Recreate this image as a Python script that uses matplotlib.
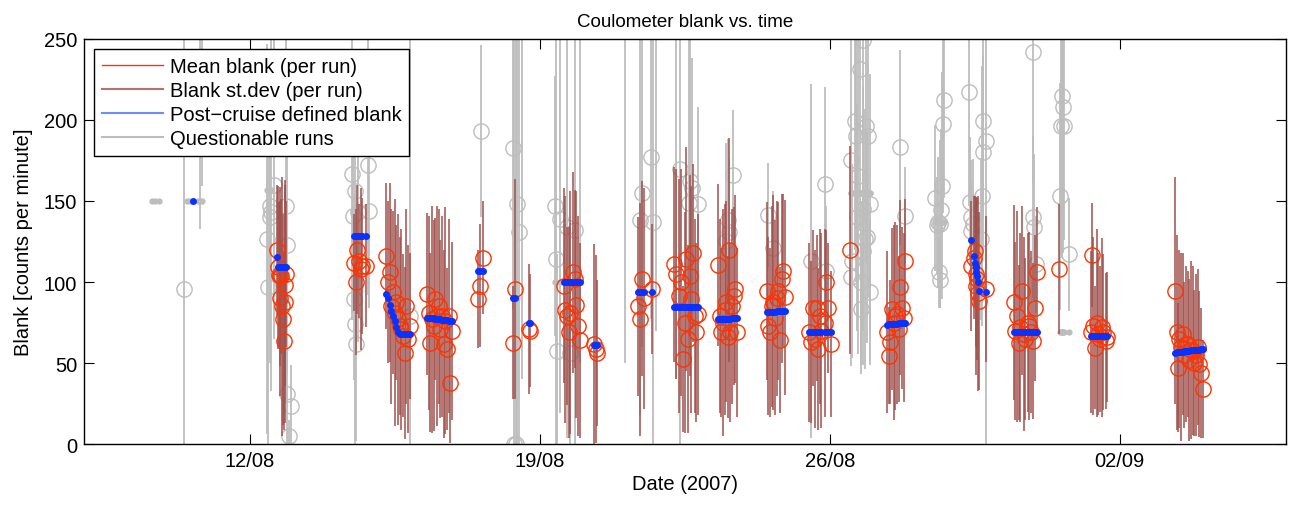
import numpy as np
import matplotlib
matplotlib.use("Agg")
import matplotlib.pyplot as plt
import matplotlib.dates as mdates
from matplotlib.lines import Line2D
from datetime import datetime

plt.rcParams['font.family'] = ['Liberation Sans', 'DejaVu Sans']

# runs accepted for the final blank: day of August 2007 (32 = 1 Sep), mean, bar half-length, post-cruise blank
ok_day = [10.63,
    12.66, 12.68, 12.70, 12.72, 12.74, 12.76, 12.78, 12.80, 12.82, 12.84, 12.86, 12.88,
    14.52, 14.56, 14.60, 14.64, 14.68, 14.72, 14.80,
    15.30, 15.34, 15.38, 15.42, 15.46, 15.50, 15.54, 15.58, 15.62, 15.66, 15.70, 15.74, 15.78, 15.82, 15.86,
    16.28, 16.32, 16.36, 16.40, 16.44, 16.48, 16.52, 16.56, 16.60, 16.64, 16.68, 16.72, 16.76, 16.80, 16.84, 16.88,
    17.50, 17.55, 17.62,
    18.36, 18.40, 18.74, 18.76,
    19.58, 19.62, 19.66, 19.70, 19.74, 19.80, 19.84, 19.88, 19.92, 19.96,
    20.32, 20.35, 20.38,
    21.38, 21.42, 21.47, 21.52, 21.70,
    22.24, 22.30, 22.36, 22.42, 22.46, 22.50, 22.54, 22.58, 22.62, 22.66, 22.70, 22.74, 22.78, 22.82,
    23.30, 23.34, 23.38, 23.42, 23.46, 23.50, 23.54, 23.57, 23.60, 23.64, 23.68, 23.72, 23.76,
    24.48, 24.52, 24.56, 24.60, 24.64, 24.68, 24.72, 24.76, 24.80, 24.84, 24.88, 24.92,
    25.50, 25.55, 25.60, 25.64, 25.68, 25.72, 25.76, 25.80, 25.88, 25.92, 25.96, 26.02,
    26.50,
    27.38, 27.42, 27.46, 27.50, 27.54, 27.58, 27.62, 27.66, 27.70, 27.74, 27.78, 27.82,
    29.42, 29.47, 29.50, 29.52, 29.54, 29.55, 29.57, 29.60, 29.78,
    30.44, 30.48, 30.52, 30.56, 30.60, 30.64, 30.68, 30.72, 30.78, 30.82, 30.86, 30.90, 30.96, 30.99,
    31.53,
    32.30, 32.34, 32.36, 32.40, 32.44, 32.48, 32.52, 32.56, 32.60, 32.66, 32.70,
    34.34, 34.37, 34.40, 34.44, 34.48, 34.52, 34.56, 34.60, 34.64, 34.68, 34.72, 34.76, 34.80, 34.84, 34.88, 34.92, 34.96, 35.00]
ok_mean = [300,
    119.6, 109, 104.6, 103.5, 90, 103.5, 85, 77, 63.8, 98, 88, 105,
    112, 100, 120, 113, 108, 110, 110,
    116, 100, 106, 85, 93.6, 81, 87.4, 77, 73, 71, 67, 56.5, 85, 65, 73,
    92.6, 81, 62.7, 77, 73, 89.5, 79, 85, 71, 79, 61.7, 76, 58.6, 79, 38, 70,
    89.5, 97.7, 115,
    62.7, 95.6, 71, 70,
    97.7, 83, 79, 69, 81, 106, 102, 86, 73, 64,
    61.7, 58.6, 56.5,
    85, 77, 102, 90, 95.6,
    111, 105, 91.5, 100, 52.4, 75, 114, 65, 104, 89.5, 118, 79, 69, 80,
    110.5, 79, 69, 75, 83, 88, 66, 120, 69, 85, 91.5, 95.6, 69,
    94.6, 73, 69, 85, 87.4, 78, 90, 94.6, 64, 102, 107, 90.5,
    69, 63, 84, 65, 84, 58.6, 79, 70, 75, 100, 84, 61.7,
    119.7,
    69, 54.5, 63, 83.3, 75, 79, 80, 71, 96.7, 84, 78, 113,
    110, 115, 119.3, 105, 97.7, 102, 93, 88.5, 95.6,
    87.4, 70, 79, 62.7, 72, 94.6, 68, 64.8, 75, 73, 69, 63.7, 84, 106,
    108,
    69, 116.6, 73, 59.6, 75, 68, 64.8, 72, 69, 63.7, 66,
    94.6, 69, 47.3, 64.8, 60, 68, 55, 62, 61.7, 52, 58, 57.6, 50, 55, 60, 49.3, 44, 34]
ok_sd = [20,
    40, 50, 45, 55, 60, 48, 80, 65, 55, 62, 75, 45,
    30, 45, 40, 35, 50, 42, 38,
    45, 50, 55, 60, 50, 70, 48, 65, 55, 62, 50, 53, 60, 58, 45,
    50, 60, 55, 70, 65, 50, 68, 60, 55, 62, 58, 70, 50, 60, 37, 55,
    30, 38, 35,
    35, 68, 40, 35,
    60, 70, 55, 65, 75, 62, 55, 70, 68, 60,
    62, 58, 45,
    55, 72, 60, 68, 40,
    60, 65, 72, 70, 45, 68, 69, 58, 62, 70, 55, 60, 55, 62,
    50, 60, 52, 70, 65, 62, 50, 69, 55, 60, 55, 58, 52,
    55, 55, 52, 62, 66, 60, 60, 55, 45, 52, 47, 60,
    55, 50, 48, 55, 45, 50, 54, 60, 58, 32, 40, 45,
    64,
    50, 30, 38, 50, 60, 58, 55, 45, 54, 50, 52, 38,
    40, 38, 34, 45, 55, 50, 60, 55, 45,
    60, 55, 65, 48, 58, 52, 60, 50, 55, 58, 50, 48, 45, 40,
    40,
    50, 32, 55, 38, 58, 50, 45, 55, 48, 42, 40,
    70, 60, 40, 55, 58, 50, 45, 48, 45, 50, 55, 52, 45, 50, 48, 45, 40, 30]
ok_blank = [150,
    115.5, 109.5, 109.5, 109.4, 109.4, 109.4, 109.3, 109.3, 109.3, 109.2, 109.2, 109.2,
    128.5, 128.5, 128.6, 128.6, 128.6, 128.7, 128.7,
    92.6, 90, 86, 82, 79, 76, 72, 69, 68, 68, 68, 68, 68, 68, 68,
    78.0, 77.9, 77.8, 77.7, 77.6, 77.4, 77.3, 77.1, 77.0, 76.8, 76.7, 76.5, 76.3, 76.2, 76.0, 75.8,
    106.6, 106.6, 106.6,
    90, 90, 75, 75,
    100, 100, 100, 100, 100, 100, 100, 100, 100, 100,
    61, 61, 61,
    94, 94, 94, 94, 94,
    84.7, 84.7, 84.7, 84.7, 84.7, 84.7, 84.7, 84.7, 84.7, 84.7, 84.7, 84.7, 84.7, 84.7,
    77.5, 77.5, 77.5, 77.5, 77.5, 77.5, 77.5, 77.5, 77.5, 77.6, 77.6, 77.6, 77.6,
    81.5, 81.5, 81.6, 81.7, 81.8, 81.8, 81.9, 82.0, 82.0, 82.1, 82.2, 82.3,
    69.2, 69.2, 69.3, 69.3, 69.3, 69.3, 69.3, 69.3, 69.4, 69.4, 69.4, 69.4,
    np.nan,
    73.8, 73.9, 74.0, 74.1, 74.2, 74.3, 74.4, 74.5, 74.6, 74.7, 74.8, 74.9,
    126, 115.8, 112, 109, 106, 103.5, 100, 94.4, 94,
    69.0, 69.0, 69.1, 69.1, 69.2, 69.2, 69.2, 69.3, 69.3, 69.4, 69.4, 69.4, 69.5, 69.5,
    np.nan,
    66.7, 66.7, 66.7, 66.8, 66.8, 66.8, 66.8, 66.9, 66.9, 66.9, 66.9,
    56.5, 56.6, 56.7, 56.8, 56.9, 57.0, 57.2, 57.3, 57.5, 57.7, 57.8, 58.0, 58.1, 58.2, 58.3, 58.4, 58.5, 58.6]

# questionable runs
bad_day = [9.65, 9.72, 9.80, 10.41, 10.48, 10.55, 10.75, 10.80, 10.84,
    12.41, 12.44, 12.49, 12.50, 12.52, 12.58, 12.88, 12.91, 12.90, 12.99, 12.96,
    14.46, 14.55, 14.50, 14.62, 14.86, 14.88, 14.52, 14.54, 14.56,
    15.87, 17.58,
    18.35, 18.44, 18.50, 18.37, 18.42, 18.56,
    19.36, 19.39, 19.48, 19.66, 19.85, 19.41, 19.72, 19.97,
    21.05, 21.41, 21.46, 21.68, 21.73, 21.80,
    22.30, 22.38, 22.62, 22.67, 22.60, 22.81,
    23.66, 23.54, 23.56, 23.50,
    24.50, 24.62,
    25.55, 25.88, 25.92,
    26.80, 26.72, 26.60, 26.88, 26.64, 26.92, 26.52, 26.68, 26.96, 26.81, 26.65, 26.84, 26.53, 26.79, 26.91, 26.51, 26.76, 26.97, 26.75,
    27.69, 27.81,
    28.75, 28.73, 28.71, 28.55, 28.69, 28.61, 28.65, 28.59, 28.63, 28.67,
    29.36, 29.71, 29.76, 29.70, 29.68, 29.39, 29.40, 29.42, 29.66, 29.46,
    30.90, 30.91, 30.94, 30.98,
    31.61, 31.62, 31.58, 31.66, 31.55, 31.77]
bad_mean = [300, 300, 300, 96, 300, 300, 300, 290, 280,
    126.5, 96.9, 147, 140, 143, 160, 147, 123, 31, 23.6, 5,
    166.6, 156, 141, 143, 172, 144, 89.5, 74, 61.7,
    79, 193,
    182.5, 148, 131, 0, 0, 300,
    147, 114, 139, 134, 132, 57.6, 56.5, 300,
    300, 138, 155, 177, 137, 300,
    300, 170, 162.5, 158, 149, 148,
    166, 138, 130.6, 125.5,
    141.5, 121,
    113, 160.5, 107,
    249, 231.5, 199.6, 196.5, 190, 190, 175, 165.6, 148, 145, 140, 126.5, 113, 119, 127.5, 103, 99.8, 93.6, 83.3,
    183, 141,
    212, 197.5, 159.5, 151.6, 144.6, 137, 135.8, 135, 106, 101.4,
    217, 199.6, 187, 180, 153, 149.6, 140, 131.7, 126.5, 135.8,
    241.8, 140, 133.7, 111,
    215, 207.8, 196.5, 196, 153, 117]
bad_sd = [30, 30, 30, 200, 20, 20, 20, 157, 121,
    120, 100, 80, 90, 110, 95, 120, 80, 30, 25, 10,
    90, 70, 60, 80, 80, 60, 50, 80, 60,
    180, 53,
    100, 160, 140, 260, 270, 260,
    80, 140, 120, 130, 150, 60, 80, 250,
    250, 120, 95, 100, 140, 230,
    260, 180, 90, 80, 100, 60,
    40, 50, 45, 60,
    32, 35,
    109, 60, 40,
    90, 100, 80, 85, 90, 100, 95, 110, 80, 75, 70, 80, 60, 70, 65, 55, 50, 45, 40,
    60, 30,
    60, 55, 70, 45, 50, 40, 52, 30, 22, 17,
    70, 60, 190, 60, 80, 40, 35, 30, 50, 40,
    80, 50, 45, 30,
    100, 90, 80, 70, 70, 35]
bad_blank = [150, 150, 150, np.nan, 150, 150, 150, 150, 150,
    157, 157, 157, 157, 157, np.nan, 109, np.nan, np.nan, np.nan, np.nan,
    np.nan, np.nan, np.nan, np.nan, np.nan, np.nan, np.nan, np.nan, np.nan,
    np.nan, np.nan,
    90, 90, np.nan, np.nan, np.nan, np.nan,
    100, 100, 100, np.nan, np.nan, np.nan, np.nan, np.nan,
    np.nan, np.nan, np.nan, np.nan, np.nan, np.nan,
    np.nan, np.nan, np.nan, np.nan, np.nan, np.nan,
    np.nan, np.nan, np.nan, np.nan,
    np.nan, np.nan,
    np.nan, np.nan, np.nan,
    155, 155, 155, 155, 155, 155, 155, 155, 155, 155, 155, 155, 155, 155, 155, 155, 155, 155, 155,
    np.nan, np.nan,
    137, 137, 137, 137, 137, 137, 137, 137, 137, 137,
    np.nan, np.nan, np.nan, np.nan, np.nan, np.nan, np.nan, np.nan, np.nan, np.nan,
    np.nan, np.nan, np.nan, np.nan,
    69, 69, 69, 69, 69, 69]

tick_days = [12, 19, 26, 33]
x_range = [8, 37]

c_red = '#ff3300'
c_brown = '#a0504c'
c_blue = '#0a32ff'
c_grey = '#bdbdbd'

aug0 = mdates.date2num(datetime(2007, 8, 1)) - 1


def to_num(d):
    return aug0 + np.asarray(d, dtype=float)


ok_t = to_num(ok_day)
ok_m = np.array(ok_mean)
ok_s = np.array(ok_sd)
bad_t = to_num(bad_day)
bad_m = np.array(bad_mean)
bad_s = np.array(bad_sd)

fig = plt.figure(figsize=(12.92, 5.10), dpi=100)
ax = fig.add_axes([0.065, 0.127, 0.93, 0.795])

# questionable runs underneath
ax.vlines(bad_t, bad_m - bad_s, bad_m + bad_s, color=c_grey, lw=1.3, zorder=1)
ax.plot(bad_t, bad_m, 'o', mfc='none', mec=c_grey, ms=11, mew=1.0, zorder=2)
ax.plot(bad_t, bad_blank, '.', color=c_grey, ms=7, zorder=2)

# good runs
ax.vlines(ok_t, ok_m - ok_s, ok_m + ok_s, color=c_brown, lw=1.3, alpha=0.85, zorder=3)
ax.plot(ok_t, ok_m, 'o', mfc='none', mec=c_red, ms=11, mew=1.0, zorder=4)
ax.plot(ok_t, ok_blank, '.', color=c_blue, ms=8, zorder=5)

ax.set_xlim(to_num(x_range))
ax.set_ylim(0, 250)
ax.set_xticks(to_num(tick_days))
ax.xaxis.set_major_formatter(mdates.DateFormatter('%d/%m'))
ax.set_yticks([0, 50, 100, 150, 200, 250])
ax.tick_params(direction='in', length=7, top=True, right=True, labelsize=14.5, pad=5)
for s in ax.spines.values():
    s.set_linewidth(1.0)

ax.set_title('Coulometer blank vs. time', fontsize=13.5, pad=9)
ax.set_xlabel('Date (2007)', fontsize=14.5, labelpad=3)
ax.set_ylabel('Blank [counts per minute]', fontsize=14.5, labelpad=8)

handles = [Line2D([], [], color=c_red, lw=1),
           Line2D([], [], color=c_brown, lw=1.5, alpha=0.8),
           Line2D([], [], color='#6f8cff', lw=1.5),
           Line2D([], [], color=c_grey, lw=1.5)]
labels = ['Mean blank (per run)', 'Blank st.dev (per run)',
          'Post\u2212cruise defined blank', 'Questionable runs']
leg = ax.legend(handles, labels, loc='upper left', fontsize=14.5, fancybox=False,
                framealpha=1, edgecolor='black', borderaxespad=0.5,
                handlelength=3.0, handletextpad=0.35, labelspacing=0.25, borderpad=0.4)
leg.get_frame().set_linewidth(1.0)
leg.set_zorder(10)

fig.savefig('out.png', dpi=100)
